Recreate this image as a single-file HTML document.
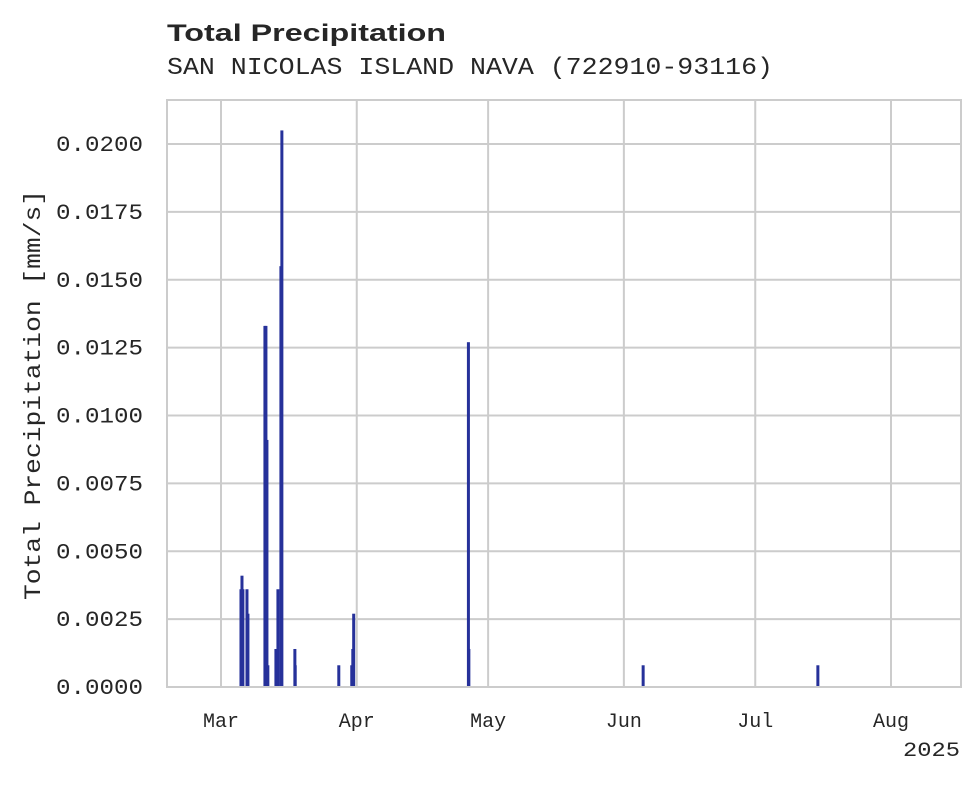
<!DOCTYPE html>
<html><head><meta charset="utf-8"><style>
html,body{margin:0;padding:0;background:#fff;}
svg text{fill:#262626;}
</style></head><body>
<svg width="980" height="783" viewBox="0 0 980 783" xmlns="http://www.w3.org/2000/svg">
<text x="167" y="41" font-family="Liberation Sans, sans-serif" font-weight="bold" font-size="24" textLength="279" lengthAdjust="spacingAndGlyphs">Total Precipitation</text>
<text x="167" y="74" font-family="Liberation Mono, monospace" font-size="24" textLength="606" lengthAdjust="spacingAndGlyphs">SAN NICOLAS ISLAND NAVA (722910-93116)</text>
<g id="grid"></g>
<g id="bars"></g>
<rect x="167" y="100" width="794" height="587" fill="none" stroke="#cccccc" stroke-width="2"/>
<g id="labels"></g>
<text transform="translate(40,395) rotate(-90)" text-anchor="middle" font-family="Liberation Mono, monospace" font-size="23" textLength="410" lengthAdjust="spacingAndGlyphs">Total Precipitation [mm/s]</text>
<text x="960" y="756" text-anchor="end" font-family="Liberation Mono, monospace" font-size="20" textLength="57" lengthAdjust="spacingAndGlyphs">2025</text>
</svg>
<script>
// Data: day offsets from Mar 1 2025, values in mm/s
const barDays = [4.56,4.79,5.0,5.93,6.15,10.03,10.26,10.49,10.7,12.54,13.0,13.68,13.9,16.87,16.95,26.9,29.86,30.1,30.3,56.5,56.6,96.4,136.3];
const barValues = [0.0036,0.0041,0.0036,0.0036,0.0027,0.0133,0.0133,0.0091,0.0008,0.0014,0.0036,0.0155,0.0205,0.0014,0.0008,0.0008,0.0008,0.0014,0.0027,0.0127,0.0014,0.0008,0.0008];
const yTicks = [0,0.0025,0.005,0.0075,0.01,0.0125,0.015,0.0175,0.02];
const yTickLabels = ["0.0000","0.0025","0.0050","0.0075","0.0100","0.0125","0.0150","0.0175","0.0200"];
const monthDays = [0,31,61,92,122,153];
const monthLabels = ["Mar","Apr","May","Jun","Jul","Aug"];

const NS="http://www.w3.org/2000/svg";
const X0=167,X1=961,Y0=687;
function xs(d){return 221 + d*(891-221)/153;}
function ys(v){return Y0 - v*(687-144)/0.02;}
const grid=document.getElementById('grid'),bars=document.getElementById('bars'),labels=document.getElementById('labels');
function mk(tag,attrs,parent){const e=document.createElementNS(NS,tag);for(const k in attrs)e.setAttribute(k,attrs[k]);parent.appendChild(e);return e;}
yTicks.forEach((t,i)=>{
  const l=mk('line',{x1:X0,x2:X1,y1:ys(t),y2:ys(t),stroke:'#cccccc','stroke-width':2},grid);
  
  
  const tx=mk('text',{x:56,y:ys(t)+7,'font-family':'Liberation Mono, monospace','font-size':22,textLength:87,lengthAdjust:'spacingAndGlyphs'},labels);
  tx.textContent=yTickLabels[i];
  
  
});
monthDays.forEach((d,i)=>{
  const l=mk('line',{x1:xs(d),x2:xs(d),y1:100,y2:Y0,stroke:'#cccccc','stroke-width':2},grid);
  
  
  const tx=mk('text',{x:xs(d),y:727,'text-anchor':'middle','font-family':'Liberation Mono, monospace','font-size':20},labels);
  tx.textContent=monthLabels[i];
  
  
});
barDays.forEach((d,i)=>{
  const x=xs(d),y=ys(barValues[i]);
  const r=mk('rect',{x:x-1.5,y:y,width:3,height:Y0-y,fill:'#26319a'},bars);
  
  
});
</script>
</body></html>
